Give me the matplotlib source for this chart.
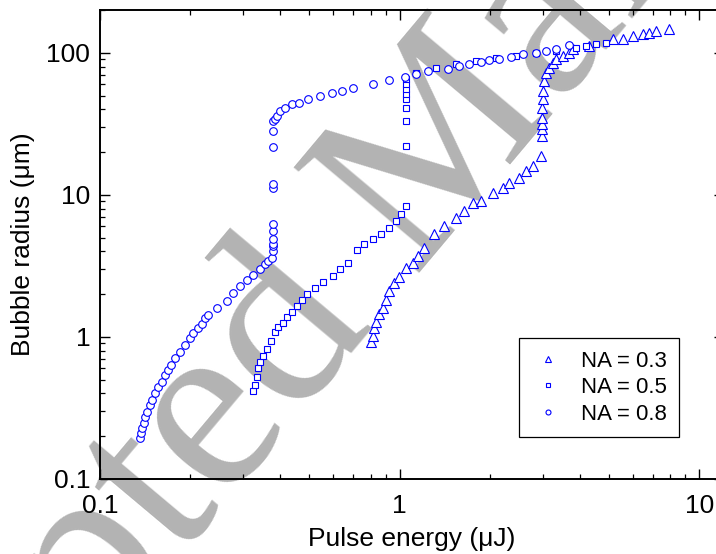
import matplotlib.pyplot as plt
from matplotlib.ticker import LogLocator, NullFormatter

plt.rcParams['font.family'] = ['Liberation Sans', 'DejaVu Sans']

# NA = 0.3
e_na03 = [0.803, 0.816, 0.822, 0.835, 0.854, 0.881, 0.901, 0.922, 0.959, 0.996,
          1.051, 1.109, 1.153, 1.207, 1.304, 1.408, 1.544, 1.642, 1.760, 1.871,
          2.052, 2.216, 2.320, 2.506, 2.645, 2.791, 2.97,
          2.99, 2.99, 2.99, 2.99, 2.99, 3.01, 3.01, 3.04, 3.08, 3.16, 3.25, 3.33,
          3.52, 3.68, 3.80, 4.29, 5.16, 5.58, 6.02, 6.50, 6.81, 7.19, 7.94]
r_na03 = [0.915, 1.02, 1.15, 1.28, 1.44, 1.61, 1.83, 2.09, 2.41, 2.66,
          3.07, 3.33, 3.73, 4.25, 5.33, 6.06, 6.90, 7.72, 8.79, 9.08,
          10.3, 11.2, 12.1, 13.2, 14.7, 16.0, 18.8,
          25.9, 29.1, 31.5, 34.7, 40.8, 47.2, 53.7, 63.1, 71.8, 77.9, 84.4, 90.0,
          94.5, 99.1, 105.8, 111, 124, 126, 131, 135, 137, 142, 146]

# NA = 0.5
e_na05 = [0.324, 0.330, 0.334, 0.338, 0.342, 0.350, 0.361, 0.372, 0.384, 0.393,
          0.408, 0.421, 0.438, 0.455, 0.473, 0.491, 0.522, 0.555, 0.600, 0.633,
          0.673, 0.721, 0.762, 0.816, 0.867, 0.922, 0.973, 1.012, 1.051,
          1.051, 1.051, 1.051, 1.051, 1.051, 1.051, 1.051, 1.051,
          1.135, 1.324, 1.544, 1.80, 2.10, 2.45, 2.855, 3.33, 3.88, 4.19, 4.53, 4.89]
r_na05 = [0.414, 0.457, 0.520, 0.601, 0.662, 0.730, 0.818, 0.930, 1.08, 1.17,
          1.26, 1.37, 1.49, 1.64, 1.83, 2.02, 2.22, 2.45, 2.70, 3.02,
          3.33, 4.11, 4.53, 4.91, 5.33, 5.87, 6.57, 7.36, 8.37,
          22.1, 33.1, 40.8, 47.2, 51.2, 55.4, 60.1, 65.2,
          71.8, 77.9, 83.0, 87.1, 91.5, 94.5, 99.1, 102.5, 107.5, 111, 115, 117]

# NA = 0.8
e_na08 = [0.136, 0.137, 0.138, 0.140, 0.141, 0.143, 0.147, 0.149, 0.153, 0.156,
          0.161, 0.165, 0.169, 0.173, 0.178, 0.185, 0.192, 0.200, 0.204, 0.212,
          0.219, 0.224, 0.230, 0.246, 0.266, 0.278, 0.293, 0.310, 0.324, 0.342,
          0.356, 0.364, 0.375,
          0.377, 0.377, 0.377, 0.377, 0.377, 0.377, 0.377, 0.377, 0.377, 0.377, 0.377,
          0.384, 0.389, 0.399, 0.415, 0.437, 0.460, 0.496, 0.543, 0.594, 0.644,
          0.698, 0.814, 0.925, 1.043, 1.135, 1.245, 1.452, 1.581, 1.707, 1.871,
          1.990, 2.148, 2.356, 2.583, 2.855, 3.083, 3.331, 3.68]
r_na08 = [0.193, 0.210, 0.228, 0.247, 0.274, 0.297, 0.331, 0.358, 0.401, 0.442,
          0.481, 0.537, 0.582, 0.631, 0.707, 0.782, 0.872, 0.976, 1.06, 1.15,
          1.24, 1.35, 1.42, 1.61, 1.80, 2.05, 2.30, 2.53, 2.75, 3.03,
          3.28, 3.44, 3.61,
          4.05, 4.39, 4.53, 4.91, 5.59, 6.26, 11.2, 11.9, 21.7, 28.1, 33.1,
          34.1, 35.8, 38.8, 41.0, 43.3, 44.4, 46.9, 49.5, 51.7, 53.7,
          56.1, 60.4, 63.8, 67.3, 70.6, 74.1, 76.6, 80.4, 83.0, 85.7,
          88.5, 90.0, 92.9, 97.5, 99.1, 102.5, 105.8, 113]

x_ticks = [0.1, 1, 10]
x_ticklabels = ['0.1', '1', '10']
y_ticks = [0.1, 1, 10, 100]
y_ticklabels = ['0.1', '1', '10', '100']

fig = plt.figure(figsize=(7.16, 5.54), dpi=100)
ax = fig.add_axes([100 / 716, 75 / 554, 624 / 716, 469 / 554])
ax.set_facecolor('none')

# gray stamp across the page, behind the axes
fig.text(0.64, 0.59, 'Accepted Manuscript', family='Liberation Serif',
         fontsize=180, color='#b3b3b3', rotation=50, rotation_mode='anchor',
         ha='center', va='baseline', zorder=-1)

style = dict(linestyle='none', mfc='white', mec='blue', mew=0.8)
ax.plot(e_na03, r_na03, marker='^', ms=6.5, label='NA = 0.3', **style)
ax.plot(e_na05, r_na05, marker='s', ms=4.8, label='NA = 0.5', **style)
ax.plot(e_na08, r_na08, marker='o', ms=5.5, label='NA = 0.8', **style)

ax.set_xscale('log')
ax.set_yscale('log')
ax.set_xlim(0.1, 12.1)
ax.set_ylim(0.1, 200)

ax.set_xticks(x_ticks)
ax.set_xticklabels(x_ticklabels)
ax.set_yticks(y_ticks)
ax.set_yticklabels(y_ticklabels)
ax.xaxis.set_minor_locator(LogLocator(base=10, subs=range(2, 10)))
ax.yaxis.set_minor_locator(LogLocator(base=10, subs=range(2, 10)))
ax.xaxis.set_minor_formatter(NullFormatter())
ax.yaxis.set_minor_formatter(NullFormatter())

ax.tick_params(which='both', direction='in', top=True, right=True, labelsize=19)
ax.tick_params(which='major', length=7.2, width=1.0)
ax.tick_params(which='minor', length=3.6, width=0.9)
ax.tick_params(axis='x', pad=11)
ax.tick_params(axis='y', pad=7)
for s in ax.spines.values():
    s.set_linewidth(1.4)

ax.set_xlabel('Pulse energy (μJ)', fontsize=19, labelpad=6)
ax.set_ylabel('Bubble radius (μm)', fontsize=19, labelpad=8)

leg = ax.legend(loc='lower right', bbox_to_anchor=(0.928, 0.0896), borderaxespad=0,
                fontsize=16, markerscale=0.65, handlelength=1.5, handletextpad=0.75,
                borderpad=0.55, labelspacing=0.25, fancybox=False, framealpha=1,
                edgecolor='black')
leg.get_frame().set_linewidth(0.9)

fig.savefig('out.png', dpi=100)
